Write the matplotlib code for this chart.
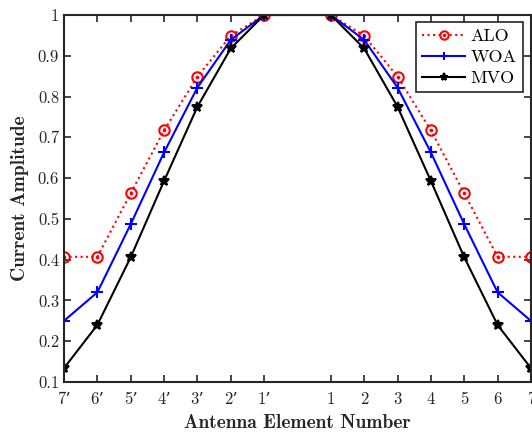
import matplotlib.pyplot as plt
from matplotlib.path import Path

# element positions (0 is the array centre, no element there)
positions = [-7, -6, -5, -4, -3, -2, -1, 1, 2, 3, 4, 5, 6, 7]
tick_labels = ["7\u2019", "6\u2019", "5\u2019", "4\u2019", "3\u2019", "2\u2019", "1\u2019",
               "1", "2", "3", "4", "5", "6", "7"]

alo = [0.407, 0.407, 0.563, 0.717, 0.849, 0.949, 1.0,
       1.0, 0.949, 0.849, 0.717, 0.563, 0.407, 0.407]
woa = [0.250, 0.320, 0.487, 0.663, 0.822, 0.939, 1.0,
       1.0, 0.939, 0.822, 0.663, 0.487, 0.320, 0.250]
mvo = [0.134, 0.240, 0.406, 0.593, 0.775, 0.918, 1.0,
       1.0, 0.918, 0.775, 0.593, 0.406, 0.240, 0.134]

plt.rcParams['font.family'] = ['cmr10', 'DejaVu Serif']
plt.rcParams['mathtext.fontset'] = 'cm'
plt.rcParams['axes.formatter.use_mathtext'] = True

# circle with a dot in the middle
dot_circle = Path.make_compound_path(Path.unit_circle(), Path.circle((0, 0), 0.15))

fig = plt.figure(figsize=(5.32, 4.32), dpi=100)
ax = fig.add_axes([0.1203, 0.1157, 0.8777, 0.8496])

ax.plot(positions, alo, color='red', linestyle=':', linewidth=1.5,
        marker=dot_circle, markersize=7.5, markerfacecolor='none',
        markeredgewidth=1.5, label='ALO')
ax.plot(positions, woa, color='blue', linestyle='-', linewidth=1.5,
        marker='+', markersize=8, markeredgewidth=1.5, label='WOA')
ax.plot(positions, mvo, color='black', linestyle='-', linewidth=1.5,
        marker='*', markersize=7, markeredgewidth=1.5, label='MVO')

ax.set_xlim(-7, 7)
ax.set_ylim(0.1, 1.0)
ax.set_xticks(positions)
ax.set_xticklabels(tick_labels)
ax.set_yticks([0.1, 0.2, 0.3, 0.4, 0.5, 0.6, 0.7, 0.8, 0.9, 1.0])
ax.set_yticklabels(["0.1", "0.2", "0.3", "0.4", "0.5", "0.6", "0.7", "0.8", "0.9", "1"])
ax.tick_params(direction='in', top=True, right=True, length=5, width=1.2,
               labelsize=12, colors='#262626')
ax.tick_params(axis='x', pad=7)
for sp in ax.spines.values():
    sp.set_linewidth(1.5)
    sp.set_color('#262626')

ax.set_xlabel('Antenna Element Number', fontsize=14,
              fontfamily=['cmb10', 'DejaVu Serif'], color='#262626', labelpad=5)
ax.set_ylabel('Current Amplitude', fontsize=14,
              fontfamily=['cmb10', 'DejaVu Serif'], color='#262626', labelpad=6)

leg = ax.legend(loc='upper right', fontsize=13, fancybox=False, framealpha=1,
                edgecolor='#262626', handlelength=2.4, markerscale=0.8,
                borderpad=0.35, labelspacing=0.3, handletextpad=0.3,
                borderaxespad=0, bbox_to_anchor=(0.983, 0.981))
leg.get_frame().set_linewidth(1.2)

plt.savefig('out.png', dpi=100)
